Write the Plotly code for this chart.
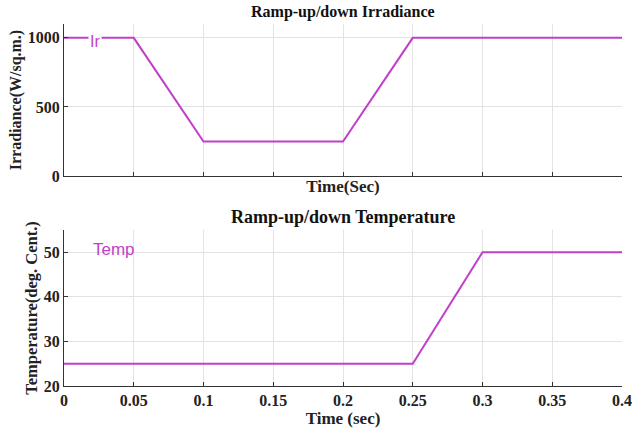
import plotly.graph_objects as go

time_irr = [0, 0.05, 0.1, 0.2, 0.25, 0.4]
irradiance = [1000, 1000, 250, 250, 1000, 1000]
time_temp = [0, 0.25, 0.3, 0.4]
temperature = [25, 25, 50, 50]
x_ticks = [0, 0.05, 0.1, 0.15, 0.2, 0.25, 0.3, 0.35, 0.4]
x_ticklabels = ["0", "0.05", "0.1", "0.15", "0.2", "0.25", "0.3", "0.35", "0.4"]
irr_ticks = [0, 500, 1000]
temp_ticks = [20, 30, 40, 50]

LINE = "#C13FC9"
SERIF = "Liberation Serif"
TXT = "#222222"

fig = go.Figure()
fig.add_trace(go.Scatter(x=time_irr, y=irradiance, mode="lines", line=dict(color=LINE, width=2),
                         xaxis="x", yaxis="y", showlegend=False))
fig.add_trace(go.Scatter(x=time_temp, y=temperature, mode="lines", line=dict(color=LINE, width=2),
                         xaxis="x2", yaxis="y2", showlegend=False))

axis_common = dict(showgrid=True, gridcolor="#E3E3E3", gridwidth=1, showline=True, linecolor="#333333",
                   linewidth=1, ticks="inside", ticklen=4, tickcolor="#333333", zeroline=False,
                   automargin=False, tickfont=dict(family=SERIF, size=16, color=TXT, weight="bold"))

fig.update_layout(
    width=632, height=432, plot_bgcolor="white", paper_bgcolor="white",
    margin=dict(l=64, r=10, t=24, b=46, autoexpand=False),
    xaxis=dict(domain=[0, 1], anchor="y", range=[0, 0.4], tickvals=x_ticks, ticktext=x_ticklabels,
               showticklabels=False, title=dict(text="<b>Time(Sec)</b>", standoff=4,
               font=dict(family=SERIF, size=17, color=TXT)), **axis_common),
    yaxis=dict(domain=[0.580, 1], anchor="x", range=[0, 1100], tickvals=irr_ticks,
               ticktext=[str(v) for v in irr_ticks],
               title=dict(text="<b>Irradiance(W/sq.m.)</b>", standoff=2,
               font=dict(family=SERIF, size=16, color=TXT)), **axis_common),
    xaxis2=dict(domain=[0, 1], anchor="y2", range=[0, 0.4], tickvals=x_ticks, ticktext=x_ticklabels,
                title=dict(text="<b>Time (sec)</b>", standoff=0,
                font=dict(family=SERIF, size=17, color=TXT)), **axis_common),
    yaxis2=dict(domain=[0, 0.431], anchor="x2", range=[20, 55], tickvals=temp_ticks,
                ticktext=[str(v) for v in temp_ticks],
                title=dict(text="<b>Temperature(deg. Cent.)</b>", standoff=2,
                font=dict(family=SERIF, size=16.5, color=TXT)), **axis_common),
)

fig.add_annotation(text="<b>Ramp-up/down Irradiance</b>", xref="paper", yref="paper", x=0.5, y=1.0,
                   yanchor="bottom", yshift=1, showarrow=False, font=dict(family=SERIF, size=16, color="#111111"))
fig.add_annotation(text="<b>Ramp-up/down Temperature</b>", xref="paper", yref="paper", x=0.5, y=0.431,
                   yanchor="bottom", yshift=1, showarrow=False, font=dict(family=SERIF, size=18, color="#111111"))
fig.add_annotation(text="Ir", x=0.0225, y=1000, xref="x", yref="y", showarrow=False, bgcolor="white",
                   yshift=-4, font=dict(family="Liberation Sans", size=16, color=LINE))
fig.add_annotation(text="Temp", x=0.0355, y=50, xref="x2", yref="y2", showarrow=False,
                   yshift=3, font=dict(family="Liberation Sans", size=17, color=LINE))

fig.write_html("out.html")
